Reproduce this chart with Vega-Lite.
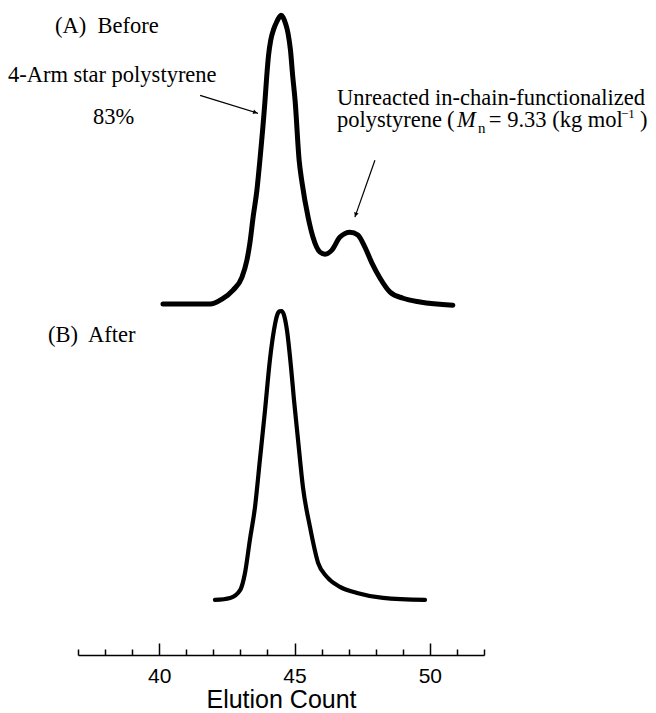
{
  "$schema": "https://vega.github.io/schema/vega-lite/v6.json",
  "width": 406,
  "height": 655,
  "autosize": {"type": "none"},
  "padding": {"left": 78, "top": 0, "right": 172, "bottom": 58},
  "background": "white",
  "config": {"view": {"stroke": null}},
  "datasets": {
    "curves": [
      {"curve": "A", "x": 40.14, "y": 102.1},
      {"curve": "A", "x": 41.88, "y": 102.1},
      {"curve": "A", "x": 42.32, "y": 103.8},
      {"curve": "A", "x": 42.73, "y": 106.9},
      {"curve": "A", "x": 43.06, "y": 111.4},
      {"curve": "A", "x": 43.24, "y": 117.2},
      {"curve": "A", "x": 43.35, "y": 123.1},
      {"curve": "A", "x": 43.47, "y": 132.1},
      {"curve": "A", "x": 43.61, "y": 141.4},
      {"curve": "A", "x": 43.72, "y": 151.7},
      {"curve": "A", "x": 43.91, "y": 172.4},
      {"curve": "A", "x": 43.97, "y": 180.3},
      {"curve": "A", "x": 44.04, "y": 187.9},
      {"curve": "A", "x": 44.12, "y": 193.1},
      {"curve": "A", "x": 44.24, "y": 197.2},
      {"curve": "A", "x": 44.35, "y": 199.6},
      {"curve": "A", "x": 44.43, "y": 201.0},
      {"curve": "A", "x": 44.50, "y": 201.7},
      {"curve": "A", "x": 44.58, "y": 201.0},
      {"curve": "A", "x": 44.67, "y": 198.8},
      {"curve": "A", "x": 44.76, "y": 195.5},
      {"curve": "A", "x": 44.85, "y": 189.7},
      {"curve": "A", "x": 44.93, "y": 181.0},
      {"curve": "A", "x": 45.02, "y": 172.4},
      {"curve": "A", "x": 45.17, "y": 151.7},
      {"curve": "A", "x": 45.28, "y": 143.8},
      {"curve": "A", "x": 45.50, "y": 132.1},
      {"curve": "A", "x": 45.68, "y": 125.2},
      {"curve": "A", "x": 45.94, "y": 120.0},
      {"curve": "A", "x": 46.13, "y": 119.3},
      {"curve": "A", "x": 46.38, "y": 120.7},
      {"curve": "A", "x": 46.68, "y": 125.2},
      {"curve": "A", "x": 47.05, "y": 126.9},
      {"curve": "A", "x": 47.34, "y": 125.9},
      {"curve": "A", "x": 47.60, "y": 121.7},
      {"curve": "A", "x": 47.86, "y": 116.2},
      {"curve": "A", "x": 48.16, "y": 111.0},
      {"curve": "A", "x": 48.53, "y": 106.2},
      {"curve": "A", "x": 49.01, "y": 104.1},
      {"curve": "A", "x": 49.64, "y": 102.8},
      {"curve": "A", "x": 50.85, "y": 101.7},
      {"curve": "B", "x": 42.06, "y": 0.0},
      {"curve": "B", "x": 42.62, "y": 0.7},
      {"curve": "B", "x": 42.99, "y": 3.4},
      {"curve": "B", "x": 43.17, "y": 9.3},
      {"curve": "B", "x": 43.35, "y": 20.7},
      {"curve": "B", "x": 43.54, "y": 32.1},
      {"curve": "B", "x": 43.72, "y": 48.3},
      {"curve": "B", "x": 43.91, "y": 65.5},
      {"curve": "B", "x": 44.09, "y": 82.8},
      {"curve": "B", "x": 44.24, "y": 93.1},
      {"curve": "B", "x": 44.36, "y": 98.3},
      {"curve": "B", "x": 44.45, "y": 99.6},
      {"curve": "B", "x": 44.52, "y": 99.7},
      {"curve": "B", "x": 44.61, "y": 98.3},
      {"curve": "B", "x": 44.72, "y": 93.1},
      {"curve": "B", "x": 44.87, "y": 80.3},
      {"curve": "B", "x": 44.98, "y": 69.0},
      {"curve": "B", "x": 45.13, "y": 55.2},
      {"curve": "B", "x": 45.31, "y": 39.0},
      {"curve": "B", "x": 45.57, "y": 25.2},
      {"curve": "B", "x": 45.87, "y": 12.8},
      {"curve": "B", "x": 46.20, "y": 7.9},
      {"curve": "B", "x": 46.68, "y": 4.5},
      {"curve": "B", "x": 47.31, "y": 2.4},
      {"curve": "B", "x": 48.27, "y": 0.7},
      {"curve": "B", "x": 49.82, "y": 0.0}
    ],
    "arrows": [
      {"x": 41.51, "y": 174.1, "x2": 43.65, "y2": 167.9},
      {"x": 47.97, "y": 151.7, "x2": 47.23, "y2": 132.1}
    ],
    "heads": [
      {"x": 43.55, "y": 168.2, "angle": 17},
      {"x": 47.26, "y": 132.9, "angle": 109}
    ],
    "labels": [
      {"x": 36.15, "y": 195.5, "label": "(A)\u00a0 Before"},
      {"x": 34.41, "y": 178.6, "label": "4-Arm star polystyrene"},
      {"x": 37.55, "y": 164.1, "label": "83%"},
      {"x": 35.89, "y": 89.0, "label": "(B)\u00a0 After"},
      {"x": 46.57, "y": 170.7, "label": "Unreacted in-chain-functionalized"},
      {"x": 46.57, "y": 163.1, "label": "polystyrene"},
      {"x": 50.63, "y": 163.1, "label": "("},
      {"x": 52.18, "y": 163.1, "label": "= 9.33 (kg mol"},
      {"x": 57.76, "y": 163.1, "label": ")"}
    ],
    "italic": [
      {"x": 51.00, "y": 163.1, "label": "M"}
    ],
    "subscript": [
      {"x": 51.78, "y": 161.0, "label": "n"}
    ],
    "superscript": [
      {"x": 57.06, "y": 166.2, "label": "\u22121"}
    ]
  },
  "encoding": {
    "x": {
      "field": "x",
      "type": "quantitative",
      "scale": {"domain": [37, 52], "nice": false, "zero": false},
      "axis": {
        "title": "Elution Count",
        "values": [37, 38, 39, 40, 41, 42, 43, 44, 45, 46, 47, 48, 49, 50, 51, 52],
        "labelExpr": "datum.value % 5 === 0 ? datum.label : ''",
        "grid": false,
        "domainColor": "black",
        "domainWidth": 1.5,
        "tickColor": "black",
        "tickWidth": 1.5,
        "tickSize": {"condition": {"test": "datum.value % 5 === 0", "value": -12}, "value": -6},
        "labelPadding": 22,
        "labelFont": "Liberation Sans",
        "labelFontSize": 21,
        "labelColor": "black",
        "titleFont": "Liberation Sans",
        "titleFontSize": 25,
        "titleFontWeight": "normal",
        "titleColor": "black",
        "titlePadding": 1
      }
    },
    "y": {
      "field": "y",
      "type": "quantitative",
      "scale": {"domain": [-19, 207], "nice": false, "zero": false},
      "axis": null
    }
  },
  "layer": [
    {
      "data": {"name": "curves"},
      "mark": {"type": "line", "color": "black", "interpolate": "monotone", "strokeCap": "round", "strokeJoin": "round"},
      "encoding": {
        "detail": {"field": "curve"},
        "strokeWidth": {"field": "curve", "type": "nominal", "scale": {"domain": ["A", "B"], "range": [5, 4.2]}, "legend": null}
      }
    },
    {
      "data": {"name": "arrows"},
      "mark": {"type": "rule", "color": "black", "strokeWidth": 1.2},
      "encoding": {
        "x2": {"field": "x2"},
        "y2": {"field": "y2"}
      }
    },
    {
      "data": {"name": "heads"},
      "mark": {"type": "point", "shape": "triangle-right", "filled": true, "color": "black", "size": 22, "opacity": 1},
      "encoding": {"angle": {"field": "angle", "type": "quantitative", "scale": null}}
    },
    {
      "data": {"name": "labels"},
      "mark": {"type": "text", "font": "Liberation Serif", "fontSize": 22.5, "align": "left", "baseline": "alphabetic", "color": "black"},
      "encoding": {"text": {"field": "label"}}
    },
    {
      "data": {"name": "italic"},
      "mark": {"type": "text", "font": "Liberation Serif", "fontSize": 22.5, "fontStyle": "italic", "align": "left", "baseline": "alphabetic", "color": "black"},
      "encoding": {"text": {"field": "label"}}
    },
    {
      "data": {"name": "subscript"},
      "mark": {"type": "text", "font": "Liberation Serif", "fontSize": 15, "align": "left", "baseline": "alphabetic", "color": "black"},
      "encoding": {"text": {"field": "label"}}
    },
    {
      "data": {"name": "superscript"},
      "mark": {"type": "text", "font": "Liberation Serif", "fontSize": 13, "align": "left", "baseline": "alphabetic", "color": "black"},
      "encoding": {"text": {"field": "label"}}
    }
  ]
}
